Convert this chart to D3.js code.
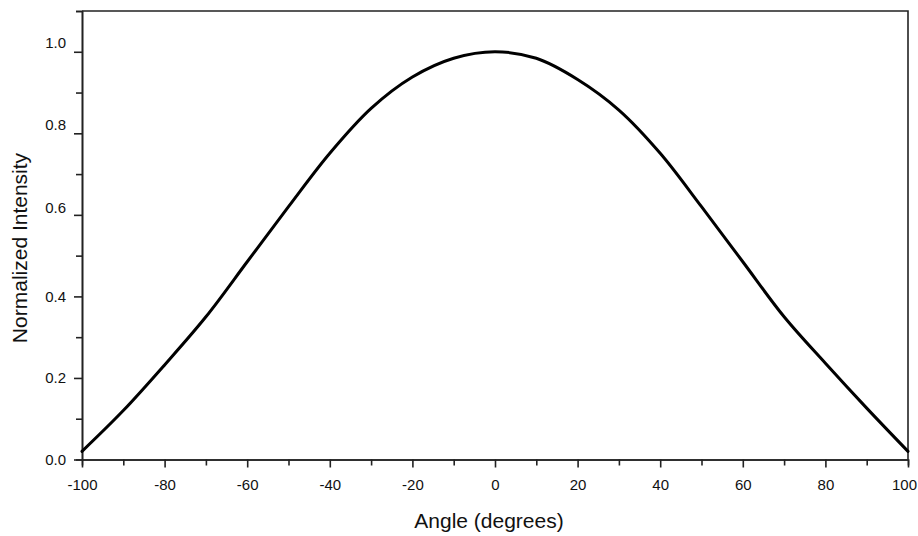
<!DOCTYPE html>
<html lang="en">
<head>
    <meta charset="UTF-8">
    <script src="https://cdn.jsdelivr.net/npm/d3@7"></script>
    <title>Normalized Intensity</title>
    <style>
        body { margin: 0; background: #fff; }
        text { font-family: "Liberation Sans", Arial, Helvetica, sans-serif; fill: #111; }
    </style>
</head>
<body>
</body>
<script>

    // angle (degrees) vs normalized intensity
    let angles = [-100, -90, -80, -70, -60, -50, -40, -30, -20, -10, 0,
                  10, 20, 30, 40, 50, 60, 70, 80, 90, 100];
    let intensity = [0.02, 0.12, 0.232, 0.35, 0.485, 0.62, 0.751, 0.861, 0.938, 0.984, 1.0,
                     0.984, 0.932, 0.857, 0.751, 0.62, 0.485, 0.35, 0.236, 0.126, 0.02];

    let xMajor = [-100, -80, -60, -40, -20, 0, 20, 40, 60, 80, 100],
        xMinor = [-90, -70, -50, -30, -10, 10, 30, 50, 70, 90],
        yMajor = [0, 0.2, 0.4, 0.6, 0.8, 1.0],
        yMinor = [0.1, 0.3, 0.5, 0.7, 0.9, 1.1];

    let width = 918,
        height = 536,
        plotLeft = 82,
        plotRight = 908,
        plotTop = 11,
        plotBottom = 459.5;

    let x = d3.scaleLinear()
            .domain([-100, 100])
            .range([plotLeft, plotRight]),
        y = d3.scaleLinear()
            .domain([0, 1.1])
            .range([plotBottom, plotTop]);

    let data = angles.map((a, i) => ({x: a, y: intensity[i]}));

    let svg = d3.select("body")
        .append("svg")
        .attr("width", width)
        .attr("height", height);

    let axisColor = "#222";

    function styleAxis(g) {
        g.selectAll(".domain").attr("stroke", axisColor).attr("stroke-width", 1.6);
        g.selectAll(".tick line").attr("stroke", axisColor).attr("stroke-width", 1.6);
        g.selectAll(".tick text").style("font-size", "15px").attr("fill", "#111");
    }

    // frame: top and right edges
    svg.append("path")
        .attr("d", `M${plotLeft},${plotTop}H${plotRight}V${plotBottom}`)
        .attr("fill", "none")
        .attr("stroke", axisColor)
        .attr("stroke-width", 1.6);

    // x axis, minor then major
    svg.append("g")
        .attr("transform", `translate(0,${plotBottom})`)
        .call(d3.axisBottom(x).tickValues(xMinor).tickSize(6).tickFormat(""))
        .call(styleAxis);

    let xAxisG = svg.append("g")
        .attr("transform", `translate(0,${plotBottom})`)
        .call(d3.axisBottom(x).tickValues(xMajor).tickSize(8).tickSizeOuter(0)
            .tickPadding(12).tickFormat(d3.format("d")))
        .call(styleAxis);

    // the last label sits a little inside the right edge in the original
    xAxisG.selectAll(".tick text")
        .filter(d => d === 100)
        .attr("dx", -4);

    // y axis
    svg.append("g")
        .attr("transform", `translate(${plotLeft},0)`)
        .call(d3.axisLeft(y).tickValues(yMinor).tickSize(6).tickFormat(""))
        .call(styleAxis);

    let yAxisG = svg.append("g")
        .attr("transform", `translate(${plotLeft},0)`)
        .call(d3.axisLeft(y).tickValues(yMajor).tickSize(8).tickSizeOuter(0)
            .tickPadding(8).tickFormat(d3.format(".1f")))
        .call(styleAxis);

    // upper labels ride a bit above their ticks
    yAxisG.selectAll(".tick text")
        .attr("y", d => d >= 0.79 ? -9 : (d >= 0.59 ? -7 : 0));

    svg.selectAll(".tick text").text(function () {
        return this.textContent.replace("\u2212", "-");
    });

    let line = d3.line()
        .x(d => x(d.x))
        .y(d => y(d.y))
        .curve(d3.curveCatmullRom.alpha(0.5));

    svg.append("path")
        .datum(data)
        .attr("d", line)
        .attr("fill", "none")
        .attr("stroke", "#000")
        .attr("stroke-width", 3)
        .attr("stroke-linecap", "round");

    svg.append("text")
        .attr("x", 489)
        .attr("y", 527.5)
        .attr("text-anchor", "middle")
        .style("font-size", "21px")
        .text("Angle (degrees)");

    svg.append("text")
        .attr("transform", "translate(26.5,248) rotate(-90)")
        .attr("text-anchor", "middle")
        .style("font-size", "21px")
        .text("Normalized Intensity");

</script>
</html>
